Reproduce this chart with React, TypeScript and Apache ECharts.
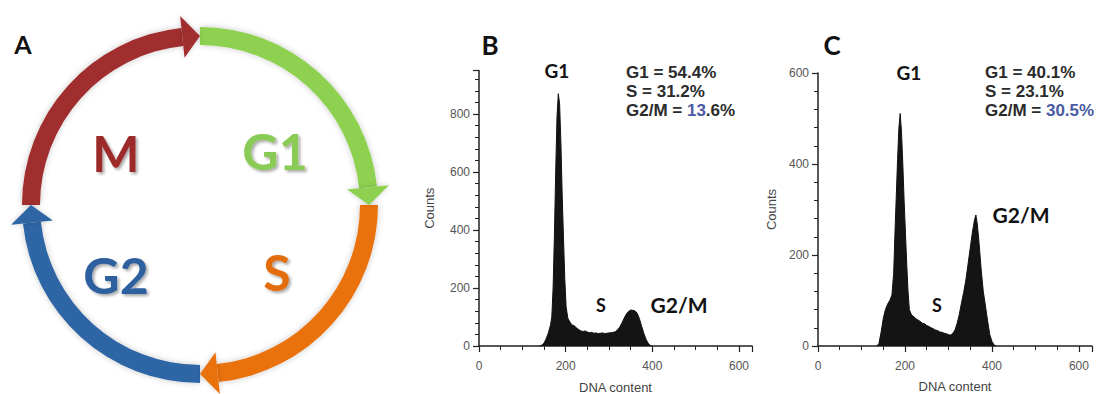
import React, { useEffect, useRef } from "react";
import * as echarts from "echarts";

// ---- Panel A: cell-cycle phases ----
const phaseNames = ["M", "G1", "S", "G2"];
const phaseRingColors = ["#A12D2E", "#8ED04F", "#E9720F", "#2E65A5"];
const phaseTextColors = ["#9C2A2C", "#8ACB55", "#E36C0C", "#2D5E9E"];

// ---- Panel B histogram (DNA content vs counts) ----
const dnaB = [140, 145, 150, 155, 160, 165, 168, 171, 174, 177, 180, 183, 186, 189, 192, 195, 198, 201, 205, 210, 215, 220, 225, 230, 235, 240, 245, 250, 255, 260, 265, 270, 275, 280, 285, 290, 295, 300, 305, 310, 315, 320, 325, 330, 335, 340, 345, 350, 355, 360, 365, 370, 375, 380, 385, 390, 395, 400];
const countsB = [0, 3, 10, 25, 45, 72, 100, 200, 380, 600, 790, 870, 835, 700, 520, 370, 230, 135, 96, 82, 72, 70, 62, 57, 52, 50, 52, 48, 46, 47, 44, 45, 43, 44, 45, 43, 44, 45, 46, 47, 50, 56, 66, 80, 96, 110, 119, 124, 123, 121, 113, 95, 70, 45, 25, 10, 2, 0];

// ---- Panel C histogram ----
const dnaC = [135, 140, 145, 150, 155, 160, 165, 170, 174, 177, 180, 183, 186, 189, 192, 195, 198, 201, 204, 207, 210, 215, 220, 225, 230, 235, 240, 245, 250, 255, 260, 265, 270, 275, 280, 285, 290, 295, 300, 305, 310, 315, 320, 325, 330, 335, 340, 345, 350, 355, 360, 363, 366, 370, 375, 380, 385, 390, 395, 400, 405, 410];
const countsC = [0, 5, 30, 60, 80, 92, 100, 112, 160, 250, 330, 410, 480, 511, 470, 400, 320, 250, 180, 120, 80, 68, 65, 60, 57, 54, 50, 49, 45, 43, 40, 38, 35, 34, 31, 30, 28, 27, 25, 24, 28, 35, 50, 70, 95, 118, 145, 180, 215, 250, 278, 288, 270, 230, 170, 120, 88, 55, 25, 10, 2, 0];

const xTickValues = [0, 200, 400, 600];
const yTickValuesB = [0, 200, 400, 600, 800];
const yTickValuesC = [0, 200, 400, 600];

const statsB = [
  ["G1 = ", "54.4%", ""],
  ["S = ", "31.2%", ""],
  ["G2/M = ", "13", ".6%"],
];
const statsC = [
  ["G1 = ", "40.1%", ""],
  ["S = ", "23.1%", ""],
  ["G2/M = ", "30.5%", ""],
];

const AXIS_COLOR = "#222222";
const LABEL_COLOR = "#555555";
const SANS = "Liberation Sans, Arial, sans-serif";
const HUMANIST = "Lato, 'Open Sans', sans-serif";

function makeXAxis(gridIndex: number, nameGap: number) {
  return {
    type: "value",
    gridIndex,
    min: 0,
    max: 630,
    interval: 200,
    name: "DNA content",
    nameLocation: "middle",
    nameGap,
    nameTextStyle: { color: "#444", fontSize: 13, fontFamily: SANS },
    axisLine: { show: true, lineStyle: { color: AXIS_COLOR, width: 1.5 } },
    axisTick: { show: true, length: 6, lineStyle: { color: AXIS_COLOR, width: 1.2 } },
    minorTick: { show: true, splitNumber: 4, length: 4, lineStyle: { color: AXIS_COLOR, width: 1 } },
    axisLabel: {
      color: LABEL_COLOR,
      fontSize: 12,
      fontFamily: SANS,
      margin: 14,
      customValues: xTickValues,
    },
    splitLine: { show: false },
    minorSplitLine: { show: false },
  };
}

function makeYAxis(gridIndex: number, max: number, ticks: number[], nameGap: number) {
  return {
    type: "value",
    gridIndex,
    min: 0,
    max,
    interval: 200,
    name: "Counts",
    nameLocation: "middle",
    nameRotate: 90,
    nameGap,
    nameTextStyle: { color: "#444", fontSize: 13, fontFamily: SANS },
    axisLine: { show: true, lineStyle: { color: AXIS_COLOR, width: 1.5 } },
    axisTick: { show: true, length: 6, lineStyle: { color: AXIS_COLOR, width: 1.2 } },
    minorTick: { show: true, splitNumber: 5, length: 4, lineStyle: { color: AXIS_COLOR, width: 1 } },
    axisLabel: {
      color: LABEL_COLOR,
      fontSize: 12,
      fontFamily: SANS,
      margin: 9,
      customValues: ticks,
    },
    splitLine: { show: false },
    minorSplitLine: { show: false },
  };
}

function statsText(rows: string[][], x: number, y: number, lineGap: number) {
  return rows.map((r, i) => ({
    type: "text",
    silent: true,
    style: {
      x,
      y: y + i * lineGap,
      text: `{d|${r[0]}}{b|${r[1]}}` + (r[2] ? `{d|${r[2]}}` : ""),
      align: "left",
      textAlign: "left",
      verticalAlign: "middle",
      textVerticalAlign: "middle",
      rich: {
        d: { fill: "#2b2b2b", color: "#2b2b2b", fontSize: 17, fontWeight: "bold", fontFamily: SANS },
        b: {
          fill: i === 2 ? "#4b5aa3" : "#2b2b2b",
          color: i === 2 ? "#4b5aa3" : "#2b2b2b",
          fontSize: 17,
          fontWeight: "bold",
          fontFamily: SANS,
        },
      },
    },
  }));
}

function label(text: string, x: number, y: number, size: number, color = "#111", family = HUMANIST) {
  return {
    type: "text",
    silent: true,
    style: {
      x,
      y,
      text,
      fill: color,
      fontSize: size,
      fontWeight: "bold",
      fontFamily: family,
      align: "center",
      textAlign: "center",
      verticalAlign: "middle",
      textVerticalAlign: "middle",
    },
  };
}

function cycleGraphics() {
  const cx = 200;
  const cy = 205;
  const r0 = 160;
  const r1 = 178;
  const rm = (r0 + r1) / 2;
  const headDeg = 6;
  const over = 12;
  const rad = (d: number) => (d * Math.PI) / 180;
  const bodies: any[] = [];
  const heads: any[] = [];
  phaseNames.forEach((_, i) => {
    const start = 180 + 90 * i; // screen degrees, clockwise
    const end = start + 90;
    const b = end - headDeg;
    bodies.push({
      type: "sector",
      silent: true,
      shape: { cx, cy, r0, r: r1, startAngle: rad(start), endAngle: rad(b), clockwise: true },
      style: { fill: phaseRingColors[i], shadowBlur: 6, shadowColor: "rgba(0,0,0,0.22)" },
    });
    heads.push({
      type: "polygon",
      silent: true,
      shape: {
        points: [
          [cx + (r0 - over) * Math.cos(rad(b)), cy + (r0 - over) * Math.sin(rad(b))],
          [cx + (r1 + over) * Math.cos(rad(b)), cy + (r1 + over) * Math.sin(rad(b))],
          [cx + rm * Math.cos(rad(end)), cy + rm * Math.sin(rad(end))],
        ],
      },
      style: { fill: phaseRingColors[i], shadowBlur: 5, shadowColor: "rgba(0,0,0,0.2)" },
    });
  });
  // phase name positions (screen offsets from ring centre)
  const textPos = [
    [-84, -52],
    [75, -54],
    [77, 67],
    [-84, 70],
  ];
  const texts = phaseNames.map((n, i) => ({
    type: "text",
    silent: true,
    style: {
      x: cx + textPos[i][0],
      y: cy + textPos[i][1],
      text: n,
      fill: phaseTextColors[i],
      fontSize: 50,
      fontWeight: "bold",
      fontFamily: HUMANIST,
      align: "center",
      textAlign: "center",
      verticalAlign: "middle",
      textVerticalAlign: "middle",
      textShadowColor: "rgba(0,0,0,0.35)",
      textShadowBlur: 3,
      textShadowOffsetX: 2,
      textShadowOffsetY: 2,
    },
  }));
  return [...bodies, ...heads, ...texts];
}

export default function App() {
  const ref = useRef<HTMLDivElement>(null);
  useEffect(() => {
    document.body.style.margin = "0";
    if (!ref.current) return;
    const chart = echarts.init(ref.current, null, { renderer: "svg" });
    chart.setOption({
      animation: false,
      backgroundColor: "#ffffff",
      grid: [
        { left: 479, top: 70.5, width: 273, height: 275.5, containLabel: false, outerBoundsMode: "none" },
        { left: 818, top: 73, width: 274, height: 273, containLabel: false, outerBoundsMode: "none" },
      ],
      xAxis: [makeXAxis(0, 35), makeXAxis(1, 34)],
      yAxis: [makeYAxis(0, 950, yTickValuesB, 43), makeYAxis(1, 600, yTickValuesC, 40)],
      series: [
        {
          type: "line",
          xAxisIndex: 0,
          yAxisIndex: 0,
          data: dnaB.map((x, i) => [x, countsB[i]]),
          symbol: "none",
          silent: true,
          lineStyle: { color: "#111", width: 1 },
          areaStyle: { color: "#141414", opacity: 1 },
          z: 1,
        },
        {
          type: "line",
          xAxisIndex: 1,
          yAxisIndex: 1,
          data: dnaC.map((x, i) => [x, countsC[i]]),
          symbol: "none",
          silent: true,
          lineStyle: { color: "#111", width: 1 },
          areaStyle: { color: "#141414", opacity: 1 },
          z: 1,
        },
      ],
      graphic: [
        ...cycleGraphics(),
        label("A", 23, 44, 25),
        label("B", 490, 45, 26),
        label("C", 832, 45, 26),
        label("G1", 557, 70, 19),
        label("S", 601, 305, 18),
        label("G2/M", 679, 304, 21),
        label("G1", 909, 72, 19),
        label("S", 937, 305, 18),
        label("G2/M", 1021, 214, 21),
        ...statsText(statsB, 626, 72, 19),
        ...statsText(statsC, 985, 72, 19),
      ],
    });
    return () => chart.dispose();
  }, []);
  return <div ref={ref} style={{ width: 1109, height: 394 }} />;
}
